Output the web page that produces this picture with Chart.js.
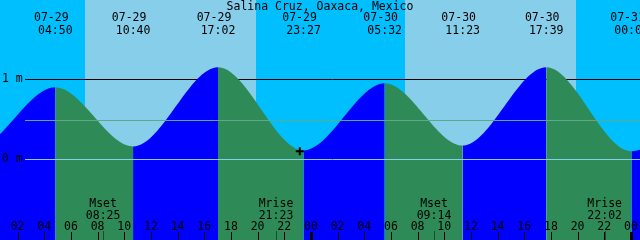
<!DOCTYPE html>
<html>
<head>
<meta charset="utf-8">
<script src="https://cdn.jsdelivr.net/npm/chart.js@4"></script>
<style>
  html, body { margin: 0; padding: 0; background: #00BFFF; }
  #wrap { width: 640px; height: 240px; }
</style>
</head>
<body>
<div id="wrap"><canvas id="tide" width="640" height="240"></canvas></div>
<script>
// Salina Cruz tide data
const stationName = "Salina Cruz, Oaxaca, Mexico";

// high / low water events (first two and last one are just outside the view)
const tideDays    = ["07-28", "07-28", "07-29", "07-29", "07-29", "07-29", "07-30", "07-30", "07-30", "07-31", "07-31"];
const tideTimes   = ["16:25", "22:42", "04:50", "10:40", "17:02", "23:27", "05:32", "11:23", "17:39", "00:03", "06:15"];
const tideHeights = [1.10, 0.12, 0.90, 0.16, 1.15, 0.11, 0.95, 0.17, 1.15, 0.10, 0.98];

// daylight
const sunriseDays  = ["07-29", "07-30"];
const sunriseTimes = ["07:03", "07:03"];
const sunsetDays   = ["07-29", "07-30"];
const sunsetTimes  = ["19:52", "19:52"];

// moon
const moonNames = ["Mset", "Mrise", "Mset", "Mrise"];
const moonDays  = ["07-29", "07-29", "07-30", "07-30"];
const moonTimes = ["08:25", "21:23", "09:14", "22:02"];

// current time marker
const nowDay = "07-29";
const nowTime = "23:10";
const nowHeight = 0.10;

// axes
const levelValues = [1, 0];
const levelLabels = ["1 m", "0 m"];
const meanLevel = 0.49;
const hourTicks = [2, 4, 6, 8, 10, 12, 14, 16, 18, 20, 22, 24, 26, 28, 30, 32, 34, 36, 38, 40, 42, 44, 46, 48];
const viewStart = ["07-29", "00:41"];
const viewHours = 48;
const yMin = -1.01, yMax = 1.99;

const nightColor = "#00BFFF";
const dayColor = "#87CEEB";
const floodColor = "#0000FF";
const ebbColor = "#2E8B57";
const FONT = "11.5px 'DejaVu Sans Mono', monospace";

// hours since 07-29 00:00
function toHours(day, time) {
  const d = parseInt(day.split("-")[1], 10) - 29;
  const [h, m] = time.split(":").map(Number);
  return d * 24 + h + m / 60;
}

const x0 = toHours(viewStart[0], viewStart[1]);
const tidePoints = tideTimes.map((t, i) => ({ x: toHours(tideDays[i], t), y: tideHeights[i] }));

const tidePlugin = {
  id: "tideDecor",
  beforeDatasetsDraw(chart) {
    const { ctx, scales: { x, y }, width, height } = chart;
    ctx.save();
    ctx.fillStyle = nightColor;
    ctx.fillRect(0, 0, width, height);
    ctx.fillStyle = dayColor;
    sunriseTimes.forEach((t, i) => {
      const a = Math.round(x.getPixelForValue(toHours(sunriseDays[i], t)));
      const b = Math.round(x.getPixelForValue(toHours(sunsetDays[i], sunsetTimes[i])));
      ctx.fillRect(a, 0, b - a, height);
    });
    // 1 m line sits under the water
    ctx.strokeStyle = "#000";
    ctx.lineWidth = 1;
    const py = Math.floor(y.getPixelForValue(levelValues[0])) + 0.5;
    ctx.beginPath();
    ctx.moveTo(25, py);
    ctx.lineTo(width, py);
    ctx.stroke();
    ctx.restore();
  },
  afterDatasetsDraw(chart) {
    const { ctx, scales: { x, y }, width, height } = chart;
    ctx.save();
    ctx.lineWidth = 1;

    // mean level + datum lines
    let py = Math.floor(y.getPixelForValue(meanLevel)) + 0.5;
    ctx.strokeStyle = "#5FA88A";
    ctx.beginPath(); ctx.moveTo(25, py); ctx.lineTo(width, py); ctx.stroke();
    py = Math.floor(y.getPixelForValue(levelValues[1])) + 0.5;
    ctx.strokeStyle = "#87CEEB";
    ctx.beginPath(); ctx.moveTo(25, py); ctx.lineTo(width, py); ctx.stroke();

    ctx.font = FONT;
    ctx.fillStyle = "#000";
    ctx.textBaseline = "alphabetic";

    // title
    ctx.textAlign = "center";
    ctx.fillText(stationName, 320, 10);

    // level labels
    ctx.textAlign = "left";
    ctx.textBaseline = "middle";
    levelLabels.forEach((lab, i) => ctx.fillText(lab, 2, y.getPixelForValue(levelValues[i])));

    // high/low labels
    ctx.textAlign = "center";
    ctx.textBaseline = "alphabetic";
    tidePoints.forEach((p, i) => {
      const px = x.getPixelForValue(p.x);
      if (px < -20 || px > width + 20) return;
      ctx.fillText(tideDays[i], px - 4, 21);
      ctx.fillText(tideTimes[i], px, 34);
    });

    // moon events
    moonTimes.forEach((t, i) => {
      const px = x.getPixelForValue(toHours(moonDays[i], t));
      ctx.fillText(moonNames[i], px, 207);
      ctx.fillText(t, px, 219);
      ctx.fillStyle = "rgba(0,0,0,0.45)";
      ctx.fillRect(Math.round(px), 231, 1, 9);
      ctx.fillStyle = "#000";
    });

    // hour ticks
    hourTicks.forEach(h => {
      const px = x.getPixelForValue(h);
      const lab = String(h % 24).padStart(2, "0");
      ctx.fillText(lab, px, 230);
      if (h % 24 === 0) ctx.fillRect(Math.round(px) - 1, 232, 3, 8);
      else ctx.fillRect(Math.round(px), 232, 1, 8);
    });
    ctx.restore();
  }
};

new Chart(document.getElementById("tide"), {
  type: "line",
  data: {
    datasets: [
      {
        data: [{ x: toHours(nowDay, nowTime), y: nowHeight }],
        showLine: false,
        pointStyle: "cross",
        pointRadius: 4,
        borderColor: "#000",
        borderWidth: 2,
        order: 0
      },
      {
        data: tidePoints,
        fill: "start",
        borderWidth: 0,
        pointRadius: 0,
        cubicInterpolationMode: "monotone",
        backgroundColor: floodColor,
        segment: {
          backgroundColor: c => (c.p1.parsed.y > c.p0.parsed.y ? floodColor : ebbColor)
        },
        order: 1
      }
    ]
  },
  options: {
    responsive: false,
    animation: false,
    devicePixelRatio: 1,
    layout: { padding: 0, autoPadding: false },
    plugins: { legend: { display: false }, tooltip: { enabled: false } },
    scales: {
      x: { type: "linear", min: x0, max: x0 + viewHours, display: false },
      y: { min: yMin, max: yMax, display: false }
    }
  },
  plugins: [tidePlugin]
});
</script>
</body>
</html>
